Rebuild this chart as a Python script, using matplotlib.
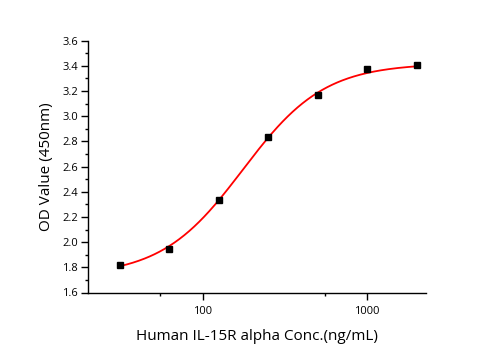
import numpy as np
import matplotlib
matplotlib.use("Agg")
import matplotlib.pyplot as plt
from matplotlib.ticker import FixedLocator, NullFormatter

# Data
conc = [31.25, 62.5, 125, 250, 500, 1000, 2000]
od = [1.821, 1.944, 2.337, 2.833, 3.166, 3.376, 3.406]

# 4-parameter logistic fit parameters (bottom, top, EC50, Hill slope)
fit_bottom = 1.73
fit_top = 3.42
fit_ec50 = 175.0
fit_hill = 1.75

x_major = [100, 1000]
x_minor = [55, 550]
x_ticklabels = ["100", "1000"]
y_major = [1.6, 1.8, 2.0, 2.2, 2.4, 2.6, 2.8, 3.0, 3.2, 3.4, 3.6]

plt.rcParams['font.family'] = ['Open Sans', 'DejaVu Sans']

fig = plt.figure(figsize=(4.95, 3.5), dpi=100)
ax = fig.add_axes([88/495, 1 - 292.5/350, (426-88)/495, (292.5-40.7)/350])

xs = np.logspace(np.log10(conc[0]), np.log10(conc[-1]), 300)
ys = fit_top + (fit_bottom - fit_top) / (1 + (xs / fit_ec50) ** fit_hill)
ax.plot(xs, ys, color='#ff0000', lw=1.3, zorder=2)
ax.plot(conc, od, linestyle='none', marker='s', ms=4.5, color='black', zorder=3)

ax.set_xscale('log')
ax.set_xlim(20, 2280)
ax.set_ylim(1.6, 3.6)
ax.xaxis.set_major_locator(FixedLocator(x_major))
ax.xaxis.set_minor_locator(FixedLocator(x_minor))
ax.set_xticklabels(x_ticklabels)
ax.xaxis.set_minor_formatter(NullFormatter())
ax.set_yticks(y_major)
ax.set_yticklabels([f"{v:.1f}" for v in y_major])
ax.yaxis.set_minor_locator(FixedLocator([v + 0.1 for v in y_major[:-1]]))

for s in ['top', 'right']:
    ax.spines[s].set_visible(False)
for s in ['left', 'bottom']:
    ax.spines[s].set_linewidth(1.0)

ax.tick_params(axis='both', which='major', direction='out', length=5, width=1.0,
               labelsize=8, pad=2)
ax.tick_params(axis='both', which='minor', direction='out', length=2.5, width=1.0)
ax.tick_params(axis='x', which='major', pad=5)

ax.set_xlabel("Human IL-15R alpha Conc.(ng/mL)", fontsize=11, labelpad=8)
ax.set_ylabel("OD Value (450nm)", fontsize=11, labelpad=6)

fig.savefig("out.png", dpi=100)
